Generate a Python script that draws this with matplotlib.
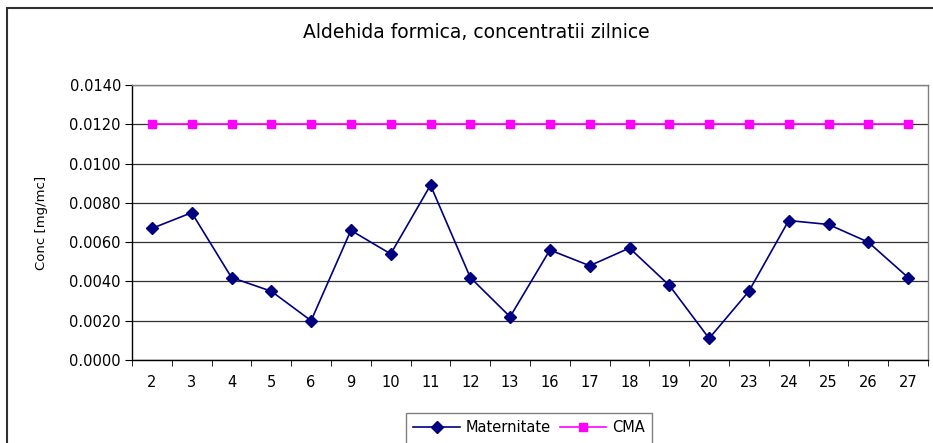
import matplotlib
matplotlib.use("Agg")
import matplotlib.pyplot as plt
from matplotlib.patches import Rectangle
from matplotlib.ticker import FixedLocator, FormatStrFormatter

plt.rcParams['font.family'] = ['DejaVu Sans']

days = ["2", "3", "4", "5", "6", "9", "10", "11", "12", "13",
        "16", "17", "18", "19", "20", "23", "24", "25", "26", "27"]
maternitate = [0.0067, 0.0075, 0.0042, 0.0035, 0.0020, 0.0066, 0.0054, 0.0089, 0.0042, 0.0022,
               0.0056, 0.0048, 0.0057, 0.0038, 0.0011, 0.0035, 0.0071, 0.0069, 0.0060, 0.0042]
cma = [0.012] * len(days)

W, H = 933, 443
fig = plt.figure(figsize=(W / 100, H / 100), dpi=100)
ax = fig.add_axes([132 / W, 1 - 360 / H, (928 - 132) / W, (360 - 85) / H])

x = list(range(len(days)))
ax.plot(x, maternitate, color='#000080', lw=1.2, marker='D', markersize=6.3,
        markerfacecolor='#000080', markeredgecolor='#000080', label='Maternitate', zorder=3)
ax.plot(x, cma, color='#FF00FF', lw=1.2, marker='s', markersize=6.3,
        markerfacecolor='#FF00FF', markeredgecolor='#FF00FF', label='CMA', zorder=3)

ax.set_xlim(-0.5, len(days) - 0.5)
ax.set_ylim(0, 0.014)
ax.set_yticks([0.0, 0.002, 0.004, 0.006, 0.008, 0.010, 0.012, 0.014])
ax.yaxis.set_major_formatter(FormatStrFormatter('%.4f'))
ax.yaxis.grid(True, color='#303030', lw=0.9)
ax.set_axisbelow(True)

ax.set_xticks(x)
ax.set_xticklabels(days)
ax.xaxis.set_minor_locator(FixedLocator([i - 0.5 for i in range(len(days) + 1)]))
ax.tick_params(axis='x', which='major', length=0, pad=11, labelsize=10.5)
ax.tick_params(axis='x', which='minor', length=4, direction='out', color='black')
ax.tick_params(axis='y', which='major', length=5, direction='out', labelsize=10.5, pad=3)

for s in ['top', 'right']:
    ax.spines[s].set_color('#808080')
    ax.spines[s].set_linewidth(1.0)
for s in ['left', 'bottom']:
    ax.spines[s].set_color('black')
    ax.spines[s].set_linewidth(1.0)

ax.set_ylabel('Conc [mg/mc]', fontsize=9.5)
ax.yaxis.set_label_coords((41 - 132) / (928 - 132), 0.5)
ax.yaxis.label.set_va('center')

fig.text(476 / W, 1 - 32 / H, 'Aldehida formica, concentratii zilnice',
         ha='center', va='center', fontsize=13.5)

leg = fig.legend(loc='upper center', bbox_to_anchor=(529 / W, 1 - 413 / H), ncol=2,
                 frameon=False, fontsize=10.5,
                 borderpad=0.5, borderaxespad=0, handlelength=3.2, columnspacing=0.6,
                 handletextpad=0.4)

fig.canvas.draw()
bb = leg.get_window_extent()
# legend frame (extends past the bottom edge of the picture, as in the original)
fig.patches.append(Rectangle((bb.x0 / W, -0.1), bb.width / W, bb.y1 / H + 0.1,
                             transform=fig.transFigure, fill=False,
                             edgecolor='#808080', lw=1.0, clip_on=False))

fig.patches.append(Rectangle((7.5 / W, -0.1), 1.0, 1 - 7.5 / H + 0.1,
                             transform=fig.transFigure, fill=False,
                             edgecolor='#303030', lw=1.5, clip_on=False))

fig.savefig('out.png', dpi=100, facecolor='white')
